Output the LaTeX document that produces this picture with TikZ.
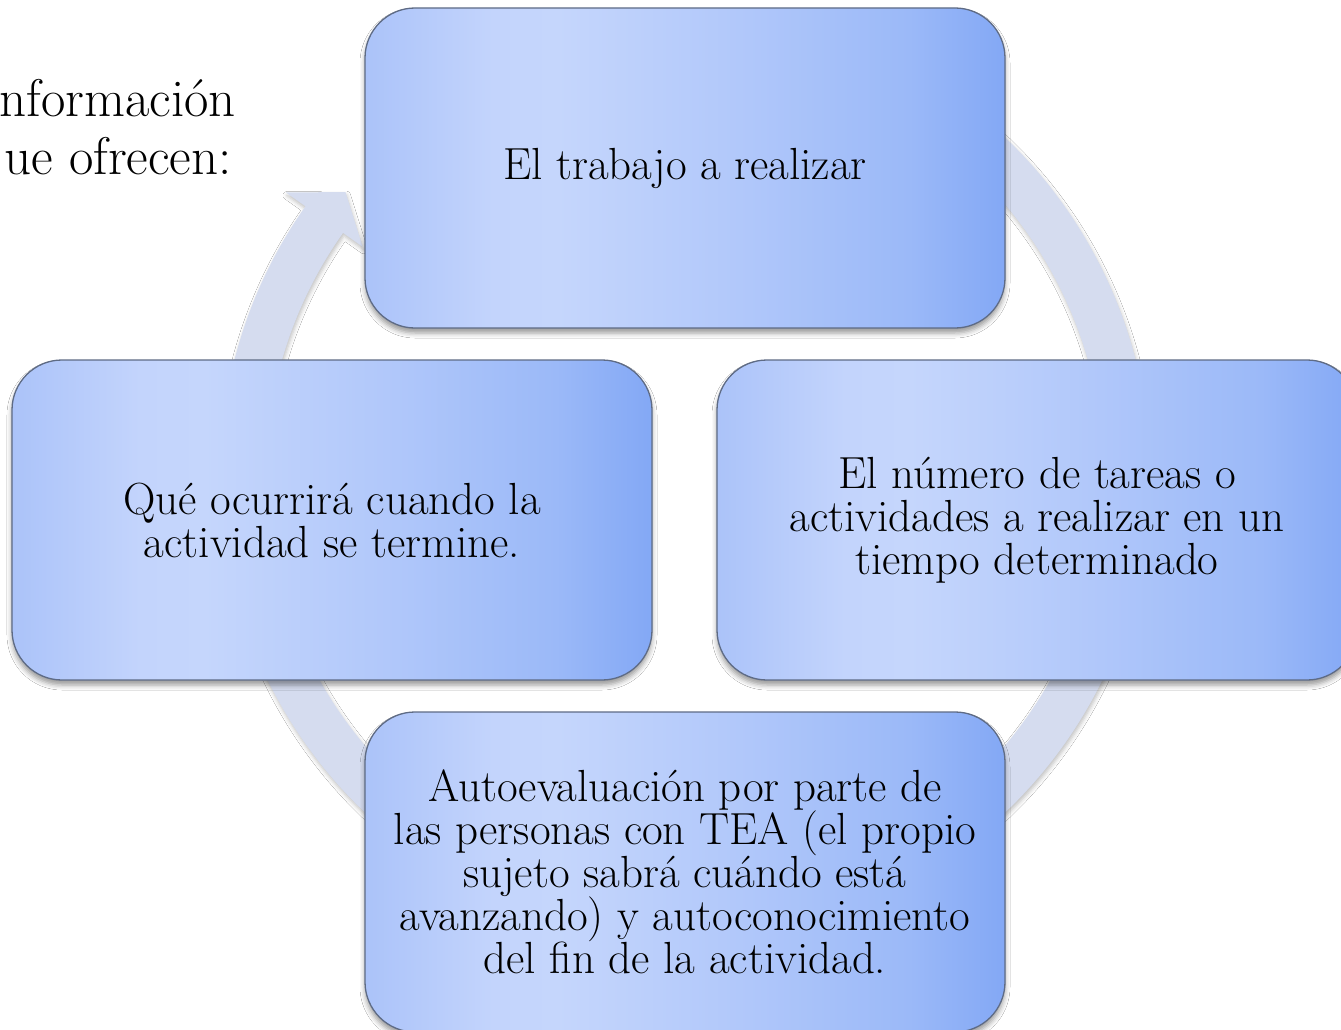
\documentclass[tikz,border=0pt]{standalone}
\usetikzlibrary{shadows.blur}
\definecolor{ringc}{HTML}{D5DCEF}
\definecolor{boxedge}{HTML}{5E6B85}
\definecolor{gA}{HTML}{ABC3F9}
\definecolor{gB}{HTML}{C3D4FC}
\definecolor{gC}{HTML}{C5D6FC}
\definecolor{gD}{HTML}{B0C7FA}
\definecolor{gE}{HTML}{9BB9F8}
\definecolor{gF}{HTML}{83A8F5}
\pgfdeclarehorizontalshading{boxgrad}{100bp}{color(0bp)=(gA); color(25bp)=(gA); color(35bp)=(gB); color(40bp)=(gC); color(55bp)=(gD); color(67.5bp)=(gE); color(75bp)=(gF); color(100bp)=(gF)}
\tikzset{
  cyclebox/.style={shape=rectangle, rounded corners=50pt, draw=boxedge, line width=1.3pt,
    shading=boxgrad, minimum width=640pt, minimum height=320pt, align=center,
    font=\fontsize{45}{43}\selectfont, text=black, inner sep=0pt,
    blur shadow={shadow xshift=0pt, shadow yshift=-5pt, shadow blur radius=5pt, shadow opacity=40}},
  ringshape/.style={fill=ringc, blur shadow={shadow xshift=1pt, shadow yshift=-3pt, shadow blur radius=4pt, shadow opacity=25}},
  sidetext/.style={anchor=base east, inner sep=0pt, font=\fontsize{53}{58}\selectfont, text=black}
}
\begin{document}
\begin{tikzpicture}[x=1pt, y=-1pt]
\useasboundingbox (0,0) rectangle (1341,1030);
\clip (0,0) rectangle (1341,1030);
\fill[white] (0,0) rectangle (1341,1030);
\coordinate (C) at (685,475);
% circular arrow
\path[ringshape] ([shift={(240:465)}]C) arc[start angle=240, end angle=575.3, radius=465]
  -- ([shift={(575.3:489)}]C) -- ([shift={(579.8:442)}]C) -- ([shift={(575.3:395)}]C)
  -- ([shift={(575.3:419)}]C) arc[start angle=575.3, end angle=240, radius=419] -- cycle;
% side text
\node[sidetext] (t1) at (236,117) {nformación};
\node[sidetext] (t2) at (232,175) {ue ofrecen:};
% boxes
\node[cyclebox] (top) at (685,168) {El trabajo a realizar};
\node[cyclebox] (right) at (1037,520) {El número de tareas o\\actividades a realizar en un\\tiempo determinado};
\node[cyclebox] (left) at (332,520) {Qué ocurrirá cuando la\\actividad se termine.};
\node[cyclebox] (bottom) at (685,872) {Autoevaluación por parte de\\las personas con TEA (el propio\\sujeto sabrá cuándo está\\avanzando) y autoconocimiento\\del fin de la actividad.};
\end{tikzpicture}
\end{document}
